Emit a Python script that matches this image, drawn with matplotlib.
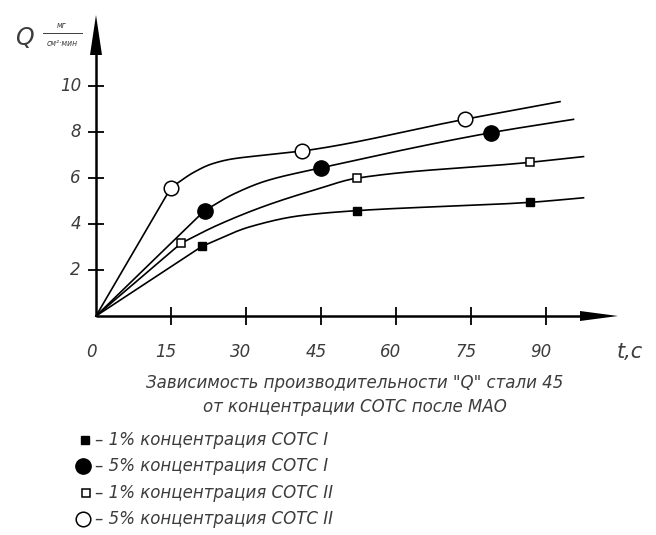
import numpy as np
import matplotlib
matplotlib.use("Agg")
import matplotlib.pyplot as plt

# ---------------- data ----------------
x_ticks = [0, 15, 30, 45, 60, 75, 90]
y_ticks = [2, 4, 6, 8, 10]
x_tick_labels = ["0", "15", "30", "45", "60", "75", "90"]
y_tick_labels = ["2", "4", "6", "8", "10"]

# 1% концентрация СОТС I (filled squares)
s1_mx = [21.2, 52.1, 86.7]
s1_my = [3.03, 4.58, 4.94]
s1_cx = [0, 21.2, 30.8, 40.8, 52.1, 86.7, 97.5]
s1_cy = [0, 3.03, 3.88, 4.36, 4.58, 4.94, 5.14]

# 5% концентрация СОТС I (filled circles)
s2_mx = [21.7, 45.0, 79.0]
s2_my = [4.58, 6.44, 7.97]
s2_cx = [0, 21.7, 27.5, 34.1, 45.0, 79.0, 95.5]
s2_cy = [0, 4.58, 5.30, 5.88, 6.44, 7.97, 8.55]

# 1% концентрация СОТС II (open squares)
s3_mx = [17.0, 52.1, 86.7]
s3_my = [3.16, 5.99, 6.68]
s3_cx = [0, 17.0, 24.0, 34.0, 44.0, 52.1, 86.7, 97.5]
s3_cy = [0, 3.16, 3.92, 4.80, 5.50, 5.99, 6.68, 6.93]

# 5% концентрация СОТС II (open circles)
s4_mx = [15.0, 41.1, 73.7]
s4_my = [5.58, 7.17, 8.55]
s4_cx = [0, 15.0, 19.5, 23.0, 27.0, 33.0, 41.1, 73.7, 92.8]
s4_cy = [0, 5.58, 6.24, 6.60, 6.82, 6.98, 7.17, 8.55, 9.32]

legend_labels = ["– 1% концентрация СОТС I",
                 "– 5% концентрация СОТС I",
                 "– 1% концентрация СОТС II",
                 "– 5% концентрация СОТС II"]
caption = "Зависимость производительности \"Q\" стали 45\nот концентрации СОТС после МАО"

# ---------------- helpers ----------------
W, H = 656, 535
X0, Y0 = 96.0, 316.0      # pixel of origin
SX, SY = 5.0, 23.0        # pixels per unit


def pchip(x, y, n=300):
    x = np.asarray(x, float)
    y = np.asarray(y, float)
    h = np.diff(x)
    d = np.diff(y) / h
    m = np.zeros_like(y)
    for k in range(1, len(x) - 1):
        if d[k - 1] * d[k] > 0:
            w1 = 2 * h[k] + h[k - 1]
            w2 = h[k] + 2 * h[k - 1]
            m[k] = (w1 + w2) / (w1 / d[k - 1] + w2 / d[k])
    m[0] = d[0]
    m[-1] = d[-1]
    xs = np.linspace(x[0], x[-1], n)
    i = np.clip(np.searchsorted(x, xs) - 1, 0, len(x) - 2)
    t = (xs - x[i]) / h[i]
    h00 = 2 * t**3 - 3 * t**2 + 1
    h10 = t**3 - 2 * t**2 + t
    h01 = -2 * t**3 + 3 * t**2
    h11 = t**3 - t**2
    ys = h00 * y[i] + h10 * h[i] * m[i] + h01 * y[i + 1] + h11 * h[i] * m[i + 1]
    return xs, ys


def curve(cx, cy):
    # straight from origin to the first measured point, smooth afterwards
    xs, ys = pchip(cx[1:], cy[1:])
    return np.r_[cx[0], xs], np.r_[cy[0], ys]


def fx(px):
    return px / W


def fy(py):
    return 1 - py / H


# ---------------- figure ----------------
fig = plt.figure(figsize=(W / 100, H / 100), dpi=100)
ax = fig.add_axes([0, 0, 1, 1])
ax.set_xlim(-X0 / SX, (W - X0) / SX)
ax.set_ylim((Y0 - H) / SY, Y0 / SY)
ax.axis("off")

TXT = "#3c3c3c"
font = dict(family="DejaVu Sans", style="oblique", color=TXT)

# axes lines
ax.plot([0, 0], [0, (Y0 - 50) / SY], color="k", lw=1.8, solid_capstyle="butt")
ax.plot([0, (585 - X0) / SX], [0, 0], color="k", lw=1.8, solid_capstyle="butt")
# arrow heads
ax.fill([-6 / SX, 0, 6 / SX], [(Y0 - 55) / SY, (Y0 - 15) / SY, (Y0 - 55) / SY],
        color="k", lw=0)
ax.fill([(580 - X0) / SX, (618 - X0) / SX, (580 - X0) / SX],
        [5 / SY, 0, -5 / SY], color="k", lw=0)

# tick crosses
ax.plot(x_ticks[1:], [0] * (len(x_ticks) - 1), ls="none", marker="|",
        ms=13, mew=1.3, color="k")
ax.plot([0] * len(y_ticks), y_ticks, ls="none", marker="_",
        ms=11, mew=1.3, color="k")

# tick labels
for v, lab in zip(x_ticks, x_tick_labels):
    ax.text(v - 5 / SX, (Y0 - 352) / SY, lab, ha="center", va="center",
            fontsize=12, **font)
for v, lab in zip(y_ticks, y_tick_labels):
    ax.text(-15 / SX, v, lab, ha="right", va="center", fontsize=12, **font)

# curves
LW = 1.2
for cx, cy in [(s1_cx, s1_cy), (s2_cx, s2_cy), (s3_cx, s3_cy), (s4_cx, s4_cy)]:
    xs, ys = curve(cx, cy)
    ax.plot(xs, ys, color="k", lw=LW, zorder=2)

styles = [
    dict(marker="s", ms=6.0, mfc="k", mec="k", mew=1.0),
    dict(marker="o", ms=11.0, mfc="k", mec="k", mew=1.0),
    dict(marker="s", ms=6.0, mfc="white", mec="k", mew=1.1),
    dict(marker="o", ms=10.5, mfc="white", mec="k", mew=1.1),
]
for (mx, my), st in zip([(s1_mx, s1_my), (s2_mx, s2_my), (s3_mx, s3_my),
                         (s4_mx, s4_my)], styles):
    ax.plot(mx, my, ls="none", zorder=3, **st)

# axis labels
fig.text(fx(24), fy(38), "Q", ha="center", va="center", fontsize=17, **font)
fig.text(fx(62), fy(26), "мг", ha="center", va="center", fontsize=5.5, **font)
ax.plot([(43 - X0) / SX, (82 - X0) / SX], [(Y0 - 33) / SY] * 2,
        color=TXT, lw=0.7)
fig.text(fx(62), fy(44), "см²·мин", ha="center", va="center", fontsize=5.5,
         **font)
fig.text(fx(630), fy(352), "t,c", ha="center", va="center", fontsize=15, **font)

# caption
fig.text(fx(355), fy(395), caption, ha="center", va="center", fontsize=12,
         linespacing=1.45, **font)

# legend
rows_y = [440, 466, 493, 519]
leg_mx = [85, 83, 86, 83]
for st, lab, ry, lmx in zip(styles, legend_labels, rows_y, leg_mx):
    ax.plot([(lmx - X0) / SX], [(Y0 - ry) / SY], ls="none", **st)
    fig.text(fx(95), fy(ry), lab, ha="left", va="center", fontsize=12, **font)

fig.savefig("out.png", dpi=100)
